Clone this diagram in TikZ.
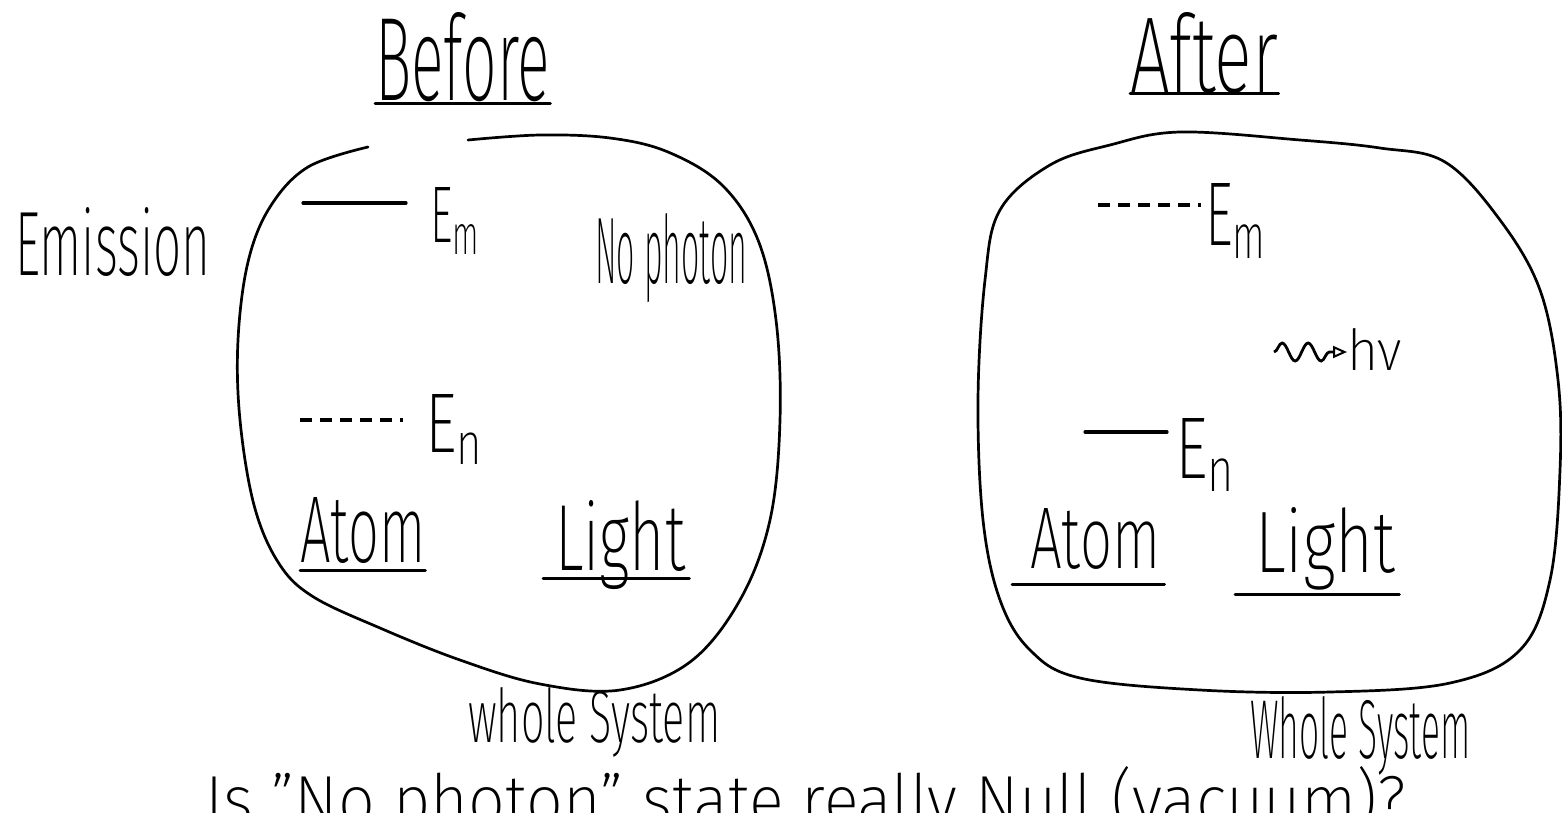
\documentclass[tikz,border=0pt]{standalone}
\usepackage{fontspec}
\setmainfont{Fira Sans}[UprightFont=* ExtraLight]
\usepackage{graphicx}
\usetikzlibrary{arrows.meta,positioning,decorations.pathmorphing}

\newcommand{\hand}[3]{\resizebox{#1pt}{#2pt}{#3}}

\begin{document}
\begin{tikzpicture}[x=1pt,y=-1pt,
  txt/.style={inner sep=0pt,anchor=base west},
  outline/.style={line width=2.7pt,line join=round,line cap=round},
  bar/.style={line width=3.2pt,line cap=round},
  dashbar/.style={line width=3.2pt,dash pattern=on 12pt off 8pt},
  uline/.style={line width=3pt,line cap=round},
  wave/.style={line width=2.8pt,decorate,decoration={snake,amplitude=9pt,segment length=26pt,post length=6pt}}
]
\useasboundingbox (0,0) rectangle (1562,812);

\node[txt] (before) at (375,100) {\hand{175}{88}{Before}};
\node[txt] (after) at (1130,92) {\hand{148}{80}{After}};
\draw[uline] ([yshift=-3pt]before.base west) -- ([yshift=-3pt]before.base east);
\draw[uline] ([yshift=-1pt]after.base west) -- ([yshift=-1pt]after.base east);

\node[txt] (emission) at (15,275) {\hand{195}{68}{Emission}};

% before
\draw[outline] plot[smooth,tension=0.6] coordinates {(468,140) (540,135) (610,138) (668,152) (722,185) (758,240) (776,320) (780,420) (770,520) (740,600) (690,662) (620,690) (540,684) (460,660) (380,628) (312,596) (278,562) (254,505) (240,420) (238,340) (248,262) (270,207) (308,167) (368,147)};
\coordinate (emA) at (303,203);
\coordinate (enA) at (300,420);
\node[txt] (emlA) at (430,242) {\hand{51}{55}{E\textsubscript{m}}};
\node[txt] (enlA) at (425,452) {\hand{60}{58}{E\textsubscript{n}}};
\draw[bar,shorten >=24pt] (emA) -- (emA -| emlA.west);
\draw[dashbar,shorten >=22pt] (enA) -- (enA -| enlA.west);
\node[txt] (nophoton) at (595,283) {\hand{152}{70}{No photon}};
\node[txt] (atomA) at (300,562) {\hand{125}{65}{Atom}};
\node[txt] (lightA) at (555,570) {\hand{130}{70}{Light}};
\draw[uline] ([yshift=-8pt]atomA.base west) -- ([yshift=-8pt]atomA.base east);
\draw[uline] ([xshift=-12pt,yshift=-8pt]lightA.base west) -- ([xshift=4pt,yshift=-8pt]lightA.base east);
\node[txt] (wholeA) at (468,742) {\hand{252}{55}{whole System}};

% after
\draw[outline] plot[smooth cycle,tension=0.6] coordinates {(1110,145) (1180,132) (1300,140) (1380,148) (1445,162) (1500,220) (1540,290) (1558,380) (1560,470) (1550,580) (1520,650) (1450,683) (1330,692) (1200,690) (1080,678) (1030,650) (1000,600) (983,520) (978,400) (985,280) (1000,210) (1050,165)};
\coordinate (emB) at (1098,205);
\coordinate (enB) at (1085,432);
\node[txt] (emlB) at (1205,245) {\hand{63}{62}{E\textsubscript{m}}};
\node[txt] (enlB) at (1175,478) {\hand{62}{60}{E\textsubscript{n}}};
\draw[dashbar,shorten >=4pt] (emB) -- (emB -| emlB.west);
\draw[bar,shorten >=8pt] (enB) -- (enB -| enlB.west);
\coordinate (waveB) at (1274,352);
\node[txt] (hnu) at (1347,370) {\hand{55}{42}{hν}};
\draw[wave,-{Triangle[open,length=14pt,width=12pt,line width=2pt]}] (waveB) -- (waveB -| hnu.west);
\node[txt] (atomB) at (1030,568) {\hand{130}{60}{Atom}};
\node[txt] (lightB) at (1255,572) {\hand{140}{65}{Light}};
\draw[uline] ([xshift=-18pt,yshift=-16pt]atomB.base west) -- ([xshift=4pt,yshift=-16pt]atomB.base east);
\draw[uline] ([xshift=-20pt,yshift=-22pt]lightB.base west) -- ([xshift=4pt,yshift=-22pt]lightB.base east);
\node[txt] (wholeB) at (1250,758) {\hand{220}{62}{Whole System}};

\node[txt] (question) at (205,824) {\hand{1200}{58}{Is "No photon" state really Null (vacuum)?}};
\end{tikzpicture}
\end{document}
